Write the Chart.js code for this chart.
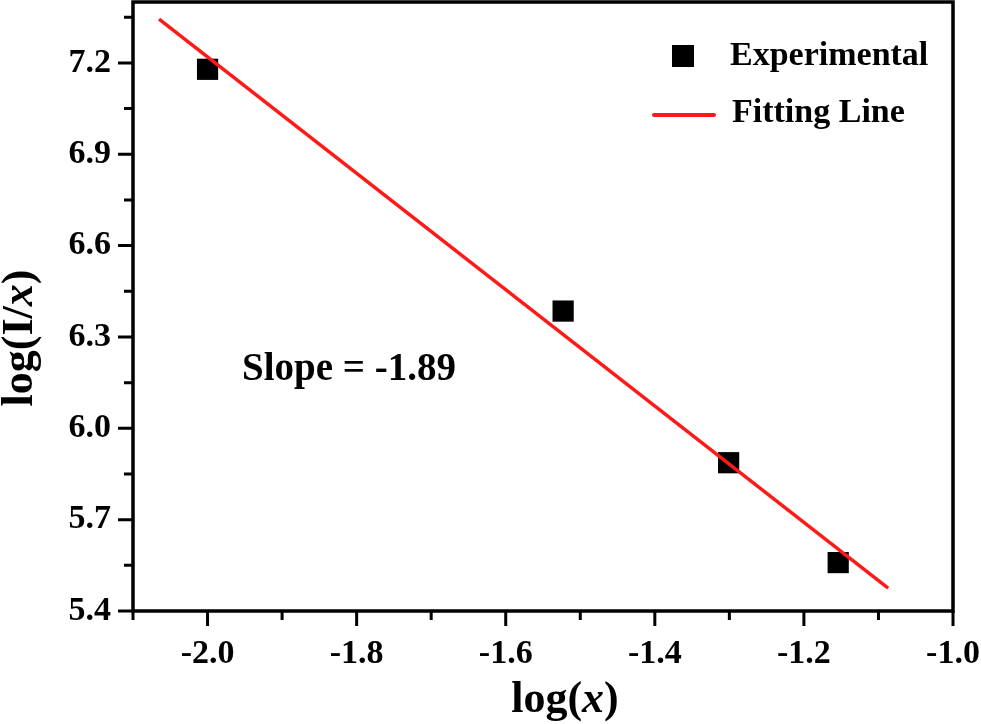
<html>
<head>
    <meta charset="UTF-8">
    <title>log(I/x) vs log(x)</title>
    <script src="https://cdn.jsdelivr.net/npm/chart.js"></script>
    <style>
        body { margin: 0; background: #fff; }
    </style>
</head>
<body>
<canvas id="chart" width="981" height="724"></canvas>

<script>
    // experimental points
    const expX = [-2.0, -1.523, -1.301, -1.154];
    const expY = [7.179, 6.385, 5.887, 5.559];

    // fitted line end points
    const fitX = [-2.065, -1.087];
    const fitY = [7.344, 5.475];

    // axis ticks
    const xTicks = [-2.0, -1.8, -1.6, -1.4, -1.2, -1.0];
    const xMinor = [-2.1, -1.9, -1.7, -1.5, -1.3, -1.1];
    const yTicks = [5.4, 5.7, 6.0, 6.3, 6.6, 6.9, 7.2];
    const yMinor = [5.55, 5.85, 6.15, 6.45, 6.75, 7.05, 7.35];

    const slopeText = "Slope = -1.89";
    const serif = "'Liberation Serif', 'Times New Roman', serif";

    function pairs(xs, ys) {
        return xs.map((x, i) => ({x: x, y: ys[i]}));
    }

    // mixed upright / italic text, drawn left to right from (x, y)
    function partsWidth(ctx, parts, size) {
        let w = 0;
        for (const p of parts) {
            ctx.font = (p.it ? "italic " : "") + "bold " + size + "px " + serif;
            w += ctx.measureText(p.t).width;
        }
        return w;
    }

    function drawParts(ctx, parts, size, x, y) {
        for (const p of parts) {
            ctx.font = (p.it ? "italic " : "") + "bold " + size + "px " + serif;
            ctx.fillText(p.t, x, y);
            x += ctx.measureText(p.t).width;
        }
    }

    // keep chart area fixed: no extra room for edge labels
    function noPad(scale) {
        scale.paddingTop = 0;
        scale.paddingBottom = 0;
        scale.paddingLeft = 0;
        scale.paddingRight = 0;
    }

    const framePlugin = {
        id: 'frame',
        afterDraw(chart) {
            const ctx = chart.ctx;
            const a = chart.chartArea;
            const xs = chart.scales.x;
            const ys = chart.scales.y;
            ctx.save();
            ctx.strokeStyle = '#000';
            ctx.fillStyle = '#000';

            // ticks
            ctx.lineWidth = 3;
            ctx.beginPath();
            for (const v of xTicks) {
                const px = xs.getPixelForValue(v);
                ctx.moveTo(px, a.bottom); ctx.lineTo(px, a.bottom + 15);
            }
            for (const v of xMinor) {
                const px = xs.getPixelForValue(v);
                ctx.moveTo(px, a.bottom); ctx.lineTo(px, a.bottom + 9);
            }
            for (const v of yTicks) {
                const py = ys.getPixelForValue(v);
                ctx.moveTo(a.left, py); ctx.lineTo(a.left - 15, py);
            }
            for (const v of yMinor) {
                const py = ys.getPixelForValue(v);
                ctx.moveTo(a.left, py); ctx.lineTo(a.left - 9, py);
            }
            ctx.stroke();

            // frame
            ctx.lineWidth = 3.5;
            ctx.beginPath();
            ctx.rect(a.left, a.top, a.right - a.left, a.bottom - a.top);
            ctx.stroke();

            // axis titles
            ctx.textBaseline = 'alphabetic';
            ctx.textAlign = 'left';
            const xt = [{t: 'log('}, {t: 'x', it: true}, {t: ')'}];
            const xw = partsWidth(ctx, xt, 44);
            drawParts(ctx, xt, 44, 565 - xw / 2, 712);

            const yt = [{t: 'log(I/'}, {t: 'x', it: true}, {t: ')'}];
            const yw = partsWidth(ctx, yt, 44);
            ctx.save();
            ctx.translate(32, 338);
            ctx.rotate(-Math.PI / 2);
            drawParts(ctx, yt, 44, -yw / 2, 0);
            ctx.restore();

            // slope note
            ctx.font = "bold 39px " + serif;
            ctx.fillText(slopeText, 242, 380);

            // legend
            const exp = chart.data.datasets[1];
            const fit = chart.data.datasets[0];
            ctx.fillStyle = exp.backgroundColor;
            ctx.fillRect(672, 45, 22, 22);
            ctx.strokeStyle = fit.borderColor;
            ctx.lineWidth = 4;
            ctx.lineCap = 'round';
            ctx.beginPath();
            ctx.moveTo(654, 115); ctx.lineTo(714, 115);
            ctx.stroke();
            ctx.fillStyle = '#000';
            ctx.font = "bold 34px " + serif;
            ctx.fillText(exp.label, 730, 65);
            ctx.fillText(fit.label, 732, 122);

            ctx.restore();
        }
    };

    const tickFont = {family: serif, size: 34, weight: 'bold'};

    new Chart(document.getElementById('chart'), {
        data: {
            datasets: [
                {
                    type: 'line',
                    label: 'Fitting Line',
                    data: pairs(fitX, fitY),
                    borderColor: '#ff1a1a',
                    borderWidth: 3.5,
                    pointRadius: 0,
                    fill: false,
                    order: 0
                },
                {
                    type: 'scatter',
                    label: 'Experimental',
                    data: pairs(expX, expY),
                    pointStyle: 'rect',
                    pointRadius: 15,
                    pointHoverRadius: 15,
                    backgroundColor: '#000',
                    borderWidth: 0,
                    order: 1
                }
            ]
        },
        options: {
            responsive: false,
            animation: false,
            devicePixelRatio: 1,
            layout: {autoPadding: false, padding: {left: 0, right: 28, top: 2, bottom: 0}},
            plugins: {
                legend: {display: false},
                tooltip: {enabled: false}
            },
            scales: {
                x: {
                    type: 'linear',
                    min: -2.1,
                    max: -1.0,
                    afterBuildTicks(scale) {
                        scale.ticks = xTicks.map(v => ({value: v}));
                    },
                    afterFit(scale) {
                        scale.height = 113;
                        noPad(scale);
                    },
                    grid: {display: false, drawTicks: false},
                    border: {display: false},
                    ticks: {
                        font: tickFont,
                        color: '#000',
                        padding: 23,
                        maxRotation: 0,
                        autoSkip: false,
                        callback: v => v.toFixed(1)
                    }
                },
                y: {
                    type: 'linear',
                    min: 5.4,
                    max: 7.4,
                    afterBuildTicks(scale) {
                        scale.ticks = yTicks.map(v => ({value: v}));
                    },
                    afterFit(scale) {
                        scale.width = 133;
                        noPad(scale);
                    },
                    grid: {display: false, drawTicks: false},
                    border: {display: false},
                    ticks: {
                        font: tickFont,
                        color: '#000',
                        padding: 22,
                        autoSkip: false,
                        callback: v => v.toFixed(1)
                    }
                }
            }
        },
        plugins: [framePlugin]
    });
</script>
</body>
</html>
